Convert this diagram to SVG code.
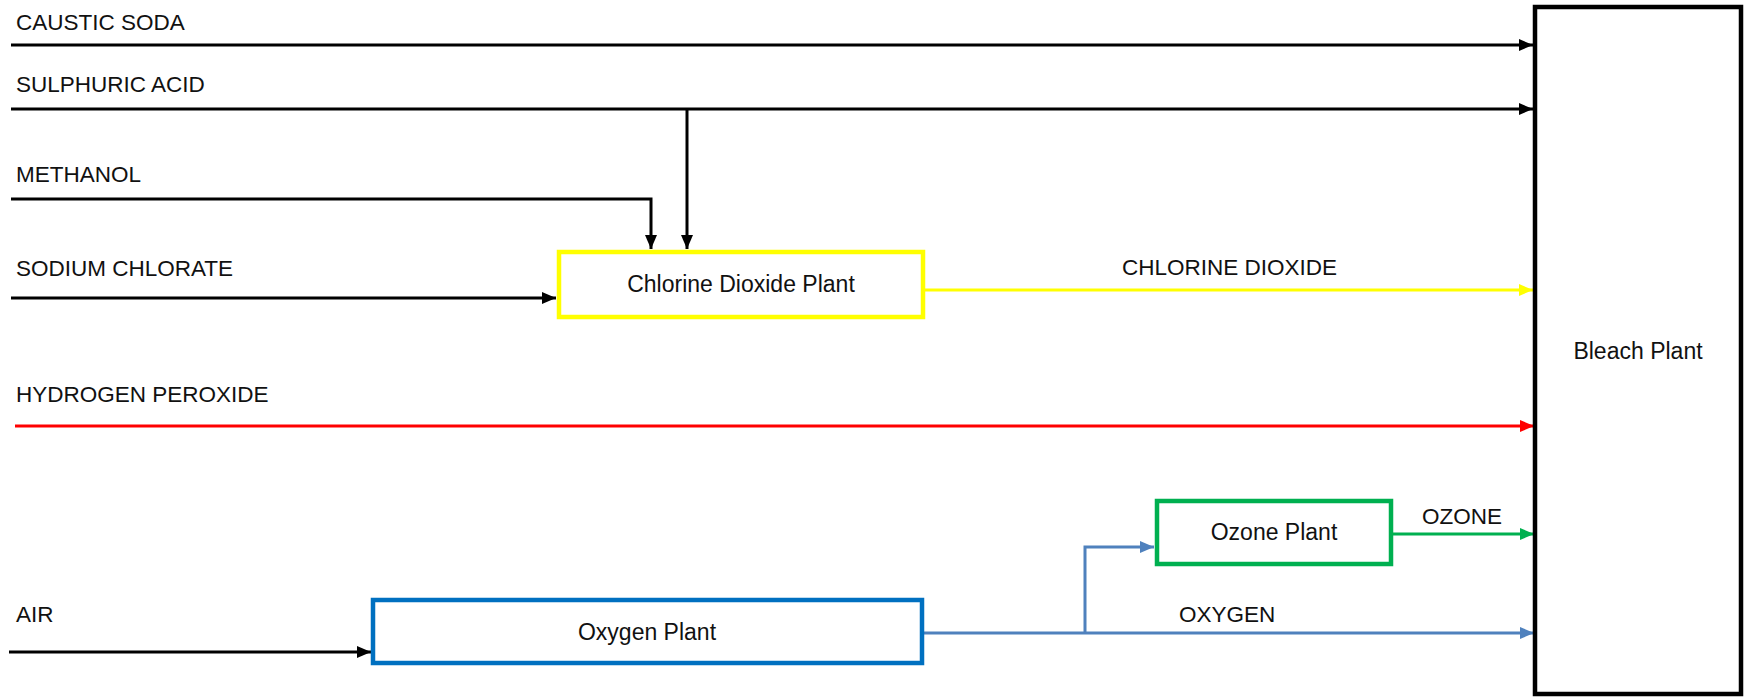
<svg xmlns="http://www.w3.org/2000/svg" width="1745" height="697" viewBox="0 0 1745 697">
<defs>
<style>
text{font-family:"Liberation Sans",Arial,sans-serif;font-size:22.5px;fill:#111}
.c{text-anchor:middle;font-size:23px}
.box{fill:#fff;stroke-width:4.5}
.ln{fill:none;stroke-width:3}
</style>
<marker id="aK" markerUnits="userSpaceOnUse" markerWidth="14" markerHeight="12" refX="14" refY="6" orient="auto"><path d="M0,0 L14,6 L0,12 z" fill="#000"/></marker>
<marker id="aY" markerUnits="userSpaceOnUse" markerWidth="14" markerHeight="12" refX="14" refY="6" orient="auto"><path d="M0,0 L14,6 L0,12 z" fill="#FFFF00"/></marker>
<marker id="aR" markerUnits="userSpaceOnUse" markerWidth="14" markerHeight="12" refX="14" refY="6" orient="auto"><path d="M0,0 L14,6 L0,12 z" fill="#FF0000"/></marker>
<marker id="aG" markerUnits="userSpaceOnUse" markerWidth="14" markerHeight="12" refX="14" refY="6" orient="auto"><path d="M0,0 L14,6 L0,12 z" fill="#00B050"/></marker>
<marker id="aB" markerUnits="userSpaceOnUse" markerWidth="14" markerHeight="12" refX="14" refY="6" orient="auto"><path d="M0,0 L14,6 L0,12 z" fill="#4F81BD"/></marker>
</defs>
<rect width="1745" height="697" fill="#fff"/>
<g id="connectors">
<path class="ln" stroke="#000" d="M11,45 H1533" marker-end="url(#aK)"/>
<path class="ln" stroke="#000" d="M11,109 H1533" marker-end="url(#aK)"/>
<path class="ln" stroke="#000" d="M687,109 V249" marker-end="url(#aK)"/>
<path class="ln" stroke="#000" d="M11,199 H651 V249" marker-end="url(#aK)"/>
<path class="ln" stroke="#000" d="M11,298 H556" marker-end="url(#aK)"/>
<path class="ln" stroke="#FFFF00" d="M923,290 H1533" marker-end="url(#aY)"/>
<path class="ln" stroke="#FF0000" d="M15,426 H1534" marker-end="url(#aR)"/>
<path class="ln" stroke="#00B050" d="M1392,534 H1534" marker-end="url(#aG)"/>
<path class="ln" stroke="#4F81BD" d="M922,633 H1534" marker-end="url(#aB)"/>
<path class="ln" stroke="#4F81BD" d="M1085,633 V547 H1154" marker-end="url(#aB)"/>
<path class="ln" stroke="#000" d="M9,652 H371" marker-end="url(#aK)"/>
</g>
<g id="labels">
<text x="16" y="30">CAUSTIC SODA</text>
<text x="16" y="92">SULPHURIC ACID</text>
<text x="16" y="182">METHANOL</text>
<text x="16" y="276">SODIUM CHLORATE</text>
<text x="16" y="402">HYDROGEN PEROXIDE</text>
<text x="16" y="622">AIR</text>
<text x="1122" y="275">CHLORINE DIOXIDE</text>
<text x="1422" y="524">OZONE</text>
<text x="1179" y="622">OXYGEN</text>
</g>
<g id="chlorine-dioxide-plant">
<rect class="box" x="559" y="252" width="364" height="65" stroke="#FFFF00"/>
<text class="c" x="741" y="292">Chlorine Dioxide Plant</text>
</g>
<g id="ozone-plant">
<rect class="box" x="1157" y="501" width="234" height="63" stroke="#00B050"/>
<text class="c" x="1274" y="540">Ozone Plant</text>
</g>
<g id="oxygen-plant">
<rect class="box" x="373" y="600" width="549" height="63" stroke="#0070C0"/>
<text class="c" x="647" y="640">Oxygen Plant</text>
</g>
<g id="bleach-plant">
<rect class="box" x="1535" y="7" width="206" height="687" stroke="#000"/>
<text class="c" x="1638" y="359">Bleach Plant</text>
</g>
</svg>
